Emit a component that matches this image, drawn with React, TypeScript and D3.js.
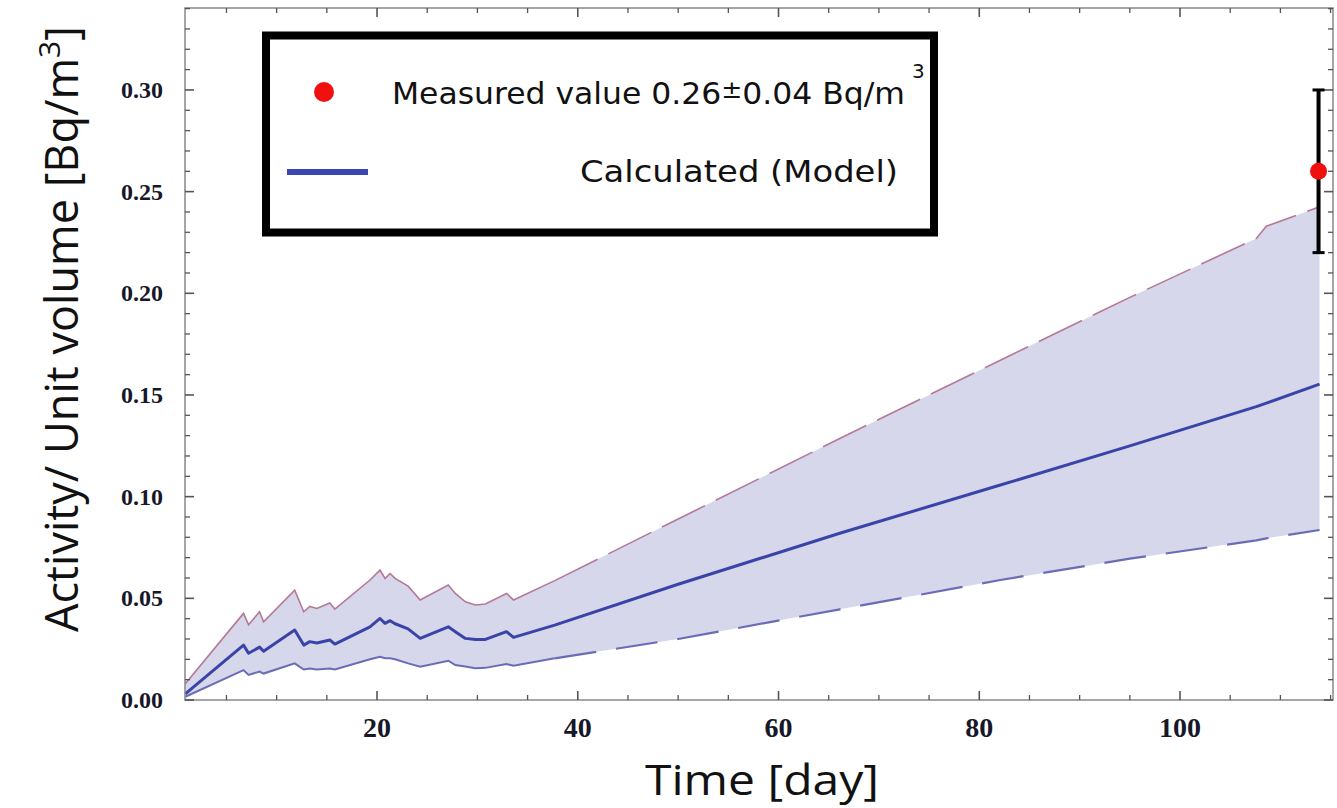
import React from 'react';
import * as d3 from 'd3';

// Time in days
const days = [0.9, 6.7, 7.2, 8.3, 8.7, 11.8, 12.7, 13.3, 14.0, 15.3, 15.8, 19.3, 20.3, 20.8, 21.3, 21.8, 23.1, 24.3, 27.1, 27.8, 28.8, 29.8, 30.8, 32.9, 33.6, 37.7, 50, 66.1, 82.1, 95, 107.6, 108.6, 113.9];
// Upper bound of model (Bq/m3)
const upper = [0.008, 0.0426, 0.037, 0.0434, 0.0385, 0.054, 0.0434, 0.046, 0.045, 0.0477, 0.0447, 0.059, 0.0639, 0.0598, 0.0622, 0.0598, 0.056, 0.0492, 0.0565, 0.0524, 0.0483, 0.0467, 0.0472, 0.0524, 0.0492, 0.0587, 0.089, 0.1286, 0.1671, 0.198, 0.227, 0.233, 0.2425];
// Calculated (model) central value
const center = [0.003, 0.027, 0.023, 0.026, 0.024, 0.0344, 0.027, 0.0287, 0.028, 0.0295, 0.0275, 0.036, 0.0401, 0.0377, 0.039, 0.0375, 0.035, 0.0303, 0.036, 0.0336, 0.0303, 0.0297, 0.0298, 0.0336, 0.0308, 0.0368, 0.0569, 0.082, 0.1057, 0.125, 0.1443, 0.146, 0.1553];
// Lower bound of model
const lower = [0.0016, 0.0147, 0.0123, 0.014, 0.013, 0.018, 0.015, 0.0155, 0.015, 0.0155, 0.015, 0.02, 0.0213, 0.0205, 0.0205, 0.02, 0.018, 0.0164, 0.0193, 0.0172, 0.0165, 0.0156, 0.0158, 0.0177, 0.0168, 0.0205, 0.03, 0.0446, 0.059, 0.0695, 0.0785, 0.0795, 0.0836];

const dashStartDay = 37.7;
const measuredDay = 113.8;
const measuredValue = 0.26;
const measuredError = 0.04;

const xTickValues = [20, 40, 60, 80, 100];
const yTickValues = [0, 0.05, 0.1, 0.15, 0.2, 0.25, 0.3];

type Row = { day: number; hi: number; mid: number; lo: number };

export default function App() {
  const W = 1337;
  const H = 808;
  const x = d3.scaleLinear().domain([0.87, 115.24]).range([185, 1333]);
  const y = d3.scaleLinear().domain([0, 0.3403]).range([700, 8]);

  const rows: Row[] = days.map((d, i) => ({ day: d, hi: upper[i], mid: center[i], lo: lower[i] }));
  const split = days.indexOf(dashStartDay);
  const early = rows.slice(0, split + 1);
  const late = rows.slice(split);

  const area = d3.area<Row>().x(d => x(d.day)).y0(d => y(d.lo)).y1(d => y(d.hi));
  const lineHi = d3.line<Row>().x(d => x(d.day)).y(d => y(d.hi));
  const lineMid = d3.line<Row>().x(d => x(d.day)).y(d => y(d.mid));
  const lineLo = d3.line<Row>().x(d => x(d.day)).y(d => y(d.lo));

  const [x0, x1] = x.range();
  const [yb, yt] = y.range();

  const xMinor = d3.range(5, 116, 5).filter(v => !xTickValues.includes(v));
  const yMinor = d3.range(1, 35).map(v => v / 100).filter(v => Math.abs(v * 20 - Math.round(v * 20)) > 1e-6);
  const yMajorAll = [0, 0.05, 0.1, 0.15, 0.2, 0.25, 0.3];

  const tickColor = '#555';
  const labelColor = '#17172a';
  const ex = x(measuredDay);

  return (
    <svg width={W} height={H} style={{ position: 'absolute', left: 0, top: 0, background: '#fff' }}>
      {/* band */}
      <path d={area(rows) || ''} fill="#d6d7ea" stroke="none" />
      {/* early solid bounds */}
      <path d={lineHi(early) || ''} fill="none" stroke="#b57896" strokeWidth={1.6} />
      <path d={lineLo(early) || ''} fill="none" stroke="#6a6cb6" strokeWidth={2} />
      {/* late dashed bounds */}
      <path d={lineHi(late) || ''} fill="none" stroke="#b57896" strokeWidth={1.6} strokeDasharray="48 12" />
      <path d={lineLo(late) || ''} fill="none" stroke="#6a6cb6" strokeWidth={2.2} strokeDasharray="42 20" />
      {/* center */}
      <path d={lineMid(rows) || ''} fill="none" stroke="#3a44a8" strokeWidth={3} strokeLinejoin="round" />

      {/* frame */}
      <rect x={x0} y={yt} width={x1 - x0} height={yb - yt} fill="none" stroke="#888" strokeWidth={1.5} />
      {/* x ticks bottom & top */}
      {xTickValues.map(v => (
        <g key={'xM' + v}>
          <line x1={x(v)} x2={x(v)} y1={yb} y2={yb - 9} stroke={tickColor} strokeWidth={1.6} />
          <line x1={x(v)} x2={x(v)} y1={yt} y2={yt + 9} stroke={tickColor} strokeWidth={1.6} />
        </g>
      ))}
      {xMinor.map(v => (
        <g key={'xm' + v}>
          <line x1={x(v)} x2={x(v)} y1={yb} y2={yb - 5} stroke={tickColor} strokeWidth={1.3} />
          <line x1={x(v)} x2={x(v)} y1={yt} y2={yt + 5} stroke={tickColor} strokeWidth={1.3} />
        </g>
      ))}
      {/* y ticks left & right */}
      {yMajorAll.map(v => (
        <g key={'yM' + v}>
          <line x1={x0} x2={x0 + 9} y1={y(v)} y2={y(v)} stroke={tickColor} strokeWidth={1.6} />
          <line x1={x1} x2={x1 - 9} y1={y(v)} y2={y(v)} stroke={tickColor} strokeWidth={1.6} />
        </g>
      ))}
      {yMinor.map(v => (
        <g key={'ym' + v}>
          <line x1={x0} x2={x0 + 5} y1={y(v)} y2={y(v)} stroke={tickColor} strokeWidth={1.3} />
          <line x1={x1} x2={x1 - 5} y1={y(v)} y2={y(v)} stroke={tickColor} strokeWidth={1.3} />
        </g>
      ))}

      {/* tick labels */}
      {xTickValues.map(v => (
        <text key={'xl' + v} x={x(v)} y={737} textAnchor="middle" fontFamily="'Liberation Serif', serif" fontWeight="bold" fontSize={28} fill={labelColor}>
          {v}
        </text>
      ))}
      {yTickValues.map(v => (
        <text key={'yl' + v} x={163} y={y(v)} dy="0.34em" textAnchor="end" fontFamily="'Liberation Serif', serif" fontWeight="bold" fontSize={24} fill={labelColor}>
          {v.toFixed(2)}
        </text>
      ))}

      {/* axis titles */}
      <text x={762} y={795} textAnchor="middle" fontFamily="'Open Sans', sans-serif" fontSize={42} textLength={234} lengthAdjust="spacingAndGlyphs" fill="#111">
        Time [day]
      </text>
      <text transform="translate(78,632) rotate(-90)" textAnchor="start" fontFamily="'Open Sans', sans-serif" fontSize={45} fill="#111">
        Activity/ Unit volume [Bq/m<tspan dy={-18} fontSize={30}>3</tspan><tspan dy={18}>]</tspan>
      </text>

      {/* measured point with error bar */}
      <line x1={ex} x2={ex} y1={y(measuredValue + measuredError)} y2={y(measuredValue - measuredError)} stroke="#000" strokeWidth={4} />
      <line x1={ex - 6} x2={ex + 6} y1={y(measuredValue + measuredError)} y2={y(measuredValue + measuredError)} stroke="#000" strokeWidth={3} />
      <line x1={ex - 6} x2={ex + 6} y1={y(measuredValue - measuredError)} y2={y(measuredValue - measuredError)} stroke="#000" strokeWidth={3} />
      <circle cx={ex} cy={y(measuredValue)} r={8.5} fill="#f01010" />

      {/* legend */}
      <rect x={266} y={35.5} width={668} height={197} fill="#fff" stroke="#000" strokeWidth={8} />
      <circle cx={324} cy={92} r={10} fill="#f01010" />
      <line x1={287} x2={368} y1={172} y2={172} stroke="#3a46b4" strokeWidth={6} />
      <text x={392} y={104} fontFamily="'DejaVu Sans', sans-serif" fontSize={30} textLength={513} lengthAdjust="spacingAndGlyphs" fill="#111">
        Measured value 0.26<tspan fontSize={24} dy={-6}>±</tspan><tspan dy={6}>0.04 Bq/m</tspan>
      </text>
      <text x={912} y={78} fontFamily="'DejaVu Sans', sans-serif" fontSize={20} fill="#111">3</text>
      <text x={898} y={182} textAnchor="end" fontFamily="'DejaVu Sans', sans-serif" fontSize={31} textLength={318} lengthAdjust="spacingAndGlyphs" fill="#111">
        Calculated (Model)
      </text>
    </svg>
  );
}
